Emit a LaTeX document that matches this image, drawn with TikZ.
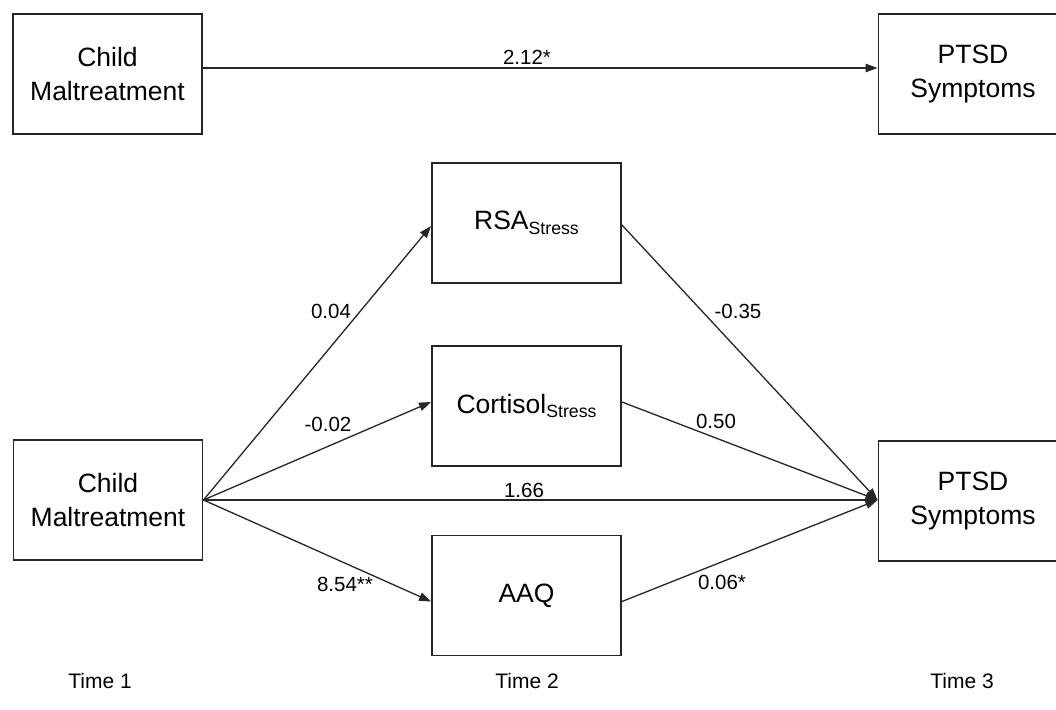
\documentclass[tikz,border=0pt]{standalone}
\usepackage{fontspec}
\setmainfont{Liberation Sans}
\usetikzlibrary{arrows.meta}
\begin{document}
\begin{tikzpicture}[x=1pt,y=-1pt,
  box/.style={draw=black!85, line width=1.9pt, minimum width=189pt, minimum height=120pt, inner sep=0pt, align=center,
    font=\fontsize{26.5}{34}\selectfont},
  conn/.style={draw=black!85, line width=1.3pt},
  arr/.style={conn, -{Triangle[length=12pt,width=8.5pt]}},
  lab/.style={font=\fontsize{20.5}{24}\selectfont, inner sep=0pt},
  timelab/.style={font=\fontsize{21}{25}\selectfont, inner sep=0pt}]
\useasboundingbox (0,0) rectangle (1056,709);
\fill[white] (0,0) rectangle (1056,709);
% boxes
\node[box] (tl) at (107.5,74) {Child\\Maltreatment};
\node[box] (tr) at (973,74) {PTSD\\Symptoms};
\node[box] (rsa) at (526.5,223) {RSA\raisebox{-4.5pt}{\fontsize{17.7}{20}\selectfont Stress}};
\node[box] (cor) at (526.5,406) {Cortisol\raisebox{-4.5pt}{\fontsize{17.7}{20}\selectfont Stress}};
\node[box] (aaq) at (526.5,595.5) {AAQ};
\node[box] (bl) at (108,500) {Child\\Maltreatment};
\node[box] (bp) at (973,501) {PTSD\\Symptoms};
% top path
\draw[arr] ([yshift=6pt]tl.east) -- ([yshift=6pt]tr.west);
\node[lab] (l212) at (527,57) {2.12*};
% mediation
\coordinate (src) at (bl.east);
\coordinate (dst) at ([yshift=1pt]bp.west);
\draw[arr] (src) -- ([yshift=-3pt]rsa.west);
\draw[arr] (src) -- ([yshift=4pt]cor.west);
\draw[arr] (src) -- ([yshift=-6pt]aaq.west);
\draw[arr] ([yshift=-2pt]rsa.east) -- (dst);
\draw[arr] ([yshift=4pt]cor.east) -- (dst);
\draw[arr] ([yshift=-6pt]aaq.east) -- (dst);
\draw[arr] (src) -- (dst);
% labels
\node[lab] (l004) at (331,311) {0.04};
\node[lab] (l002) at (328,424) {-0.02};
\node[lab] (l854) at (345,584) {8.54**};
\node[lab] (l035) at (738,311) {-0.35};
\node[lab] (l050) at (716,421) {0.50};
\node[lab] (l006) at (722,582) {0.06*};
\node[lab] (l166) at (524,490) {1.66};
% time labels
\node[timelab] (t1) at (100,681) {Time 1};
\node[timelab] (t2) at (527,681) {Time 2};
\node[timelab] (t3) at (962,681) {Time 3};
\end{tikzpicture}
\end{document}
